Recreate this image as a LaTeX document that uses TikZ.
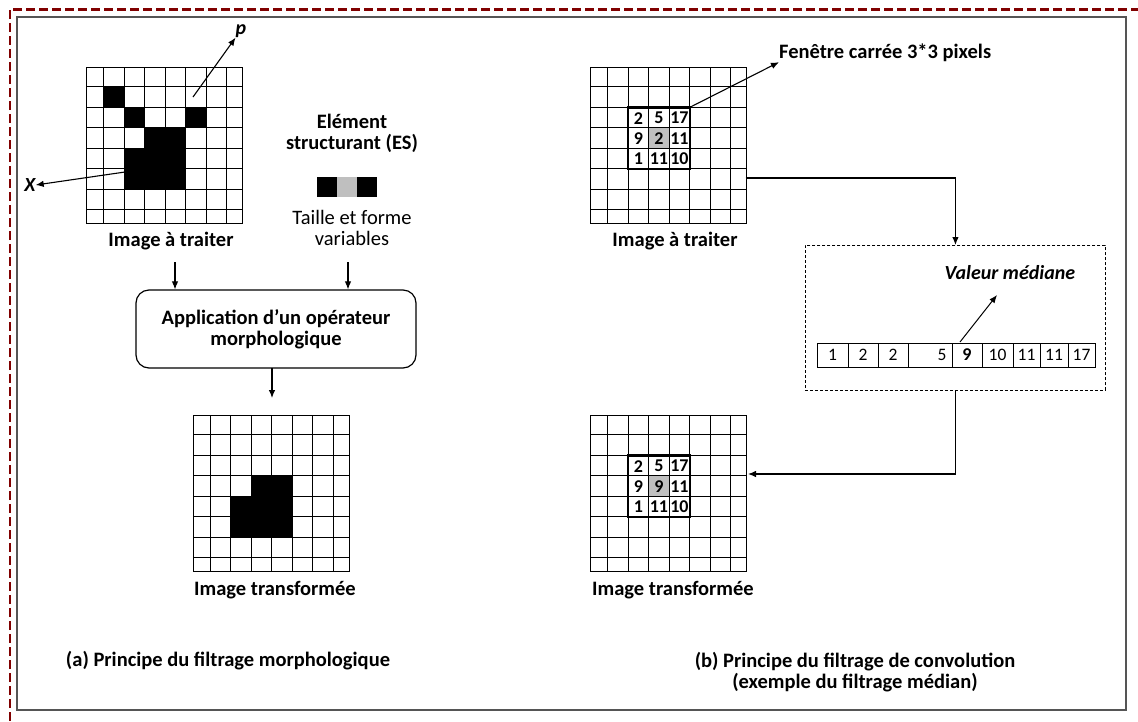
\documentclass[tikz,border=0pt]{standalone}
\usepackage{fontspec}
\setmainfont{Carlito}
\usetikzlibrary{arrows.meta}
\definecolor{dred}{RGB}{128,0,0}
\definecolor{framec}{RGB}{85,85,85}
\definecolor{cellgray}{RGB}{191,191,191}
\newcommand\drawgrid[3]{%
  \node[draw=none, minimum width=156pt, minimum height=156pt, inner sep=0pt, outer sep=0pt, anchor=north west] (#1) at (#2,#3) {};
  \foreach \i in {1,...,7} {\draw[gridline] ({#2-3.5+20.5*\i},#3) -- ++(0,156);}
  \foreach \j in {1,...,7} {\draw[gridline] (#2,{#3-1.3+20.5*\j}) -- ++(156,0);}
  \draw[gridline] (#2,#3) rectangle ++(156,156);
}
\newcommand\gcell[5]{\fill[#5] ({#1+max(0,-3.5+20.5*#3)},{#2+max(0,-1.3+20.5*#4)}) rectangle ({#1+min(156,17+20.5*#3)},{#2+min(156,19.2+20.5*#4)});}
\newcommand\gwindow[3]{%
  \gcell{#1}{#2}{3}{3}{cellgray}
  \drawgrid{#3}{#1}{#2}
  \draw[line width=2.3pt] (#1+37.5,#2+39.7) rectangle (#1+99,#2+101.2);
}
\begin{document}
\begin{tikzpicture}[x=1pt,y=-1pt,
  gridline/.style={line width=1.1pt},
  lbl/.style={font=\fontsize{20.5}{21}\selectfont\bfseries, align=center, inner sep=0pt},
  txt/.style={font=\fontsize{20.5}{21}\selectfont, align=center, inner sep=0pt},
  num/.style={font=\fontsize{18}{18}\selectfont\bfseries, inner sep=0pt},
  anum/.style={font=\fontsize{17.5}{17.5}\selectfont, inner sep=0pt},
  arr/.style={-{Latex[length=8pt,width=6.5pt]}, line width=1.1pt},
]
\useasboundingbox (0,0) rectangle (1138,721);
\fill[white] (0,0) rectangle (1138,721);
\draw[line width=1.3pt, draw=framec] (17,17) rectangle (1126,710);
\draw[line width=2.6pt, draw=dred, dash pattern=on 9pt off 4pt] (10,721) -- (10,9.3) -- (1138,9.3);

% ---------- (a) ----------
\foreach \i/\j in {1/1,2/2,5/2,3/3,4/3,2/4,3/4,4/4,2/5,3/5,4/5} {\gcell{86.7}{67.7}{\i}{\j}{black}}
\drawgrid{g1}{86.7}{67.7}
\node[lbl] (it1) at (171,241) {Image à traiter};
\node[lbl, font=\fontsize{20}{20}\selectfont\bfseries\itshape] (p) at (241,31) {p};
\node[lbl, font=\fontsize{20}{20}\selectfont\bfseries\itshape] (X) at (30,185) {X};
\coordinate (ptail) at (193,97);
\coordinate (xtail) at (125,172);
\draw[arr] (ptail) -- (p.south west);
\draw[arr] (xtail) -- (X.east);

\node[lbl] (es) at (352,133) {Elément\\structurant (ES)};
\node[draw=none, minimum width=20pt, minimum height=20pt, inner sep=0pt, fill=black] (es1) at (327,187) {};
\node[draw=none, minimum width=20pt, minimum height=20pt, inner sep=0pt, fill=cellgray] (es2) at (347,187) {};
\node[draw=none, minimum width=20pt, minimum height=20pt, inner sep=0pt, fill=black] (es3) at (367,187) {};
\node[txt] (tf) at (352,228) {Taille et forme\\variables};

\node[draw, line width=1.2pt, rounded corners=13pt, minimum width=280pt, minimum height=78pt, lbl, inner sep=0pt] (app) at (276,329) {Application d’un opérateur\\morphologique};
\coordinate (a1) at (175,262);
\coordinate (a2) at (348,262);
\draw[arr] (a1) -- (a1 |- app.north);
\draw[arr] (a2) -- (a2 |- app.north);
\coordinate (a3) at (272,368);
\coordinate (a3e) at (272,398);
\draw[arr] (a3) -- (a3e);

\foreach \i/\j in {3/3,4/3,2/4,3/4,4/4,2/5,3/5,4/5} {\gcell{193.3}{415.7}{\i}{\j}{black}}
\drawgrid{g3}{193.3}{415.7}
\node[lbl] (itr1) at (275,590) {Image transformée};
\node[lbl] (capa) at (228,661) {(a) Principe du filtrage morphologique};

% ---------- (b) ----------
\gwindow{590.7}{67.7}{g2}
\foreach \i/\j/\v in {2/2/2,3/2/5,4/2/17,2/3/9,3/3/2,4/3/11,2/4/1,3/4/11,4/4/10}
  {\node[num] at ({590.7+6.75+20.5*\i},{67.7+9.4+20.5*\j}) {\v};}
\node[lbl] (it2) at (675,241) {Image à traiter};
\node[lbl, anchor=west] (fen) at (779,53) {Fenêtre carrée 3*3 pixels};
\coordinate (wcorner) at (689.7,107.4);
\draw[arr] (wcorner) -- (fen.south west);

\node[draw, line width=0.9pt, dash pattern=on 3pt off 2pt, minimum width=300pt, minimum height=145pt, inner sep=0pt, anchor=north west] (mbox) at (805,245) {};
\node[lbl, font=\fontsize{20}{20}\selectfont\bfseries\itshape] (vm) at (1010,273) {Valeur médiane};
\draw[line width=1pt] (817,343) rectangle (1095,367);
\foreach \x in {848,878,908,952,982,1013,1040,1068} {\draw[line width=1pt] (\x,343) -- (\x,367);}
\node[anum] (n1) at (832.5,355) {1};
\node[anum] (n2) at (863,355) {2};
\node[anum] (n3) at (893,355) {2};
\node[anum] (n4) at (942,355) {5};
\node[num] (n5) at (967,355) {9};
\node[anum] (n6) at (997.5,355) {10};
\node[anum] (n7) at (1026.5,355) {11};
\node[anum] (n8) at (1054,355) {11};
\node[anum] (n9) at (1081.5,355) {17};
\coordinate (vmtip) at (997,295);
\coordinate (vmtail) at (960,342);
\draw[arr, line width=1pt] (vmtail) -- (vmtip);

\coordinate (c1) at (745.7,178);
\draw[arr] (c1) -| (mbox.north);
\coordinate (c2) at (748,474);
\draw[arr] (mbox.south) |- (c2);

\gwindow{590.7}{415.7}{g4}
\foreach \i/\j/\v in {2/2/2,3/2/5,4/2/17,2/3/9,3/3/9,4/3/11,2/4/1,3/4/11,4/4/10}
  {\node[num] at ({590.7+6.75+20.5*\i},{415.7+9.4+20.5*\j}) {\v};}
\node[lbl] (itr2) at (673,590) {Image transformée};
\node[lbl] (capb) at (855,672) {(b) Principe du filtrage de convolution\\(exemple du filtrage médian)};
\end{tikzpicture}
\end{document}
